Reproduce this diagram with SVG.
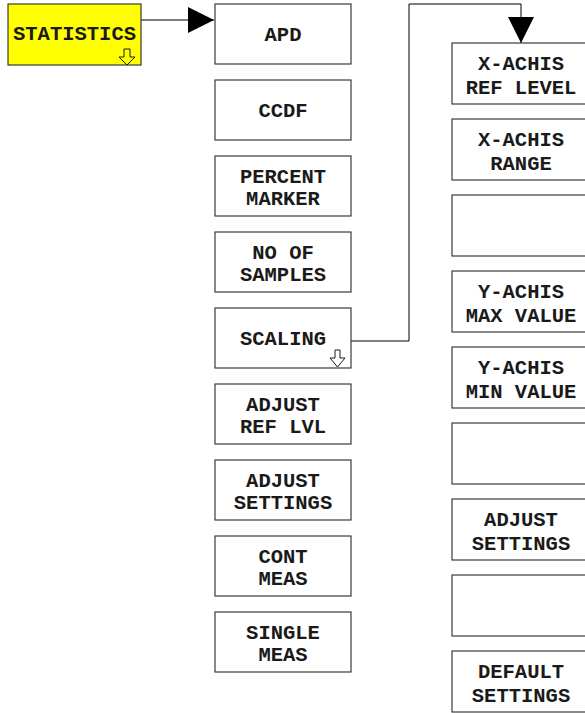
<svg xmlns="http://www.w3.org/2000/svg" width="585" height="713" viewBox="0 0 585 713">
<style>
.box{fill:#fff;stroke:#3a3a3a;stroke-width:1.2}
.hl{fill:#ffff00;stroke:#3a3a3a;stroke-width:1.2}
.t{font-family:"Liberation Mono","Courier New",monospace;font-weight:bold;font-size:20.5px;fill:#1a1a1a;text-anchor:middle}
.ic{fill:#fff;stroke:#1a1a1a;stroke-width:1}
.hl-ic{fill:#ffff00;stroke:#1a1a1a;stroke-width:1}
.con{fill:none;stroke:#000;stroke-width:1}
</style>
<defs>
<marker id="ah" markerUnits="userSpaceOnUse" markerWidth="27" markerHeight="27" refX="26" refY="13" orient="auto" viewBox="0 0 27 27">
<path d="M0,0 L26,13 L0,26 z" fill="#000"/>
</marker>
</defs>
<g id="connectors">
<path class="con" d="M141,20 H214" marker-end="url(#ah)"/>
<path class="con" d="M351,341 H409 V4 H521 V43" marker-end="url(#ah)"/>
</g>
<g id="statistics">
<rect class="hl" x="8" y="4" width="133" height="61"/>
<text class="t" x="74.5" y="40">STATISTICS</text>
<polygon class="hl-ic" points="124,49 130,49 130,57 135,57 127,65 119,57 124,57"/>
</g>
<g id="apd"><rect class="box" x="215" y="4" width="136" height="60"/><text class="t" x="283" y="41">APD</text></g>
<g id="ccdf"><rect class="box" x="215" y="80" width="136" height="60"/><text class="t" x="283" y="117">CCDF</text></g>
<g id="percent-marker"><rect class="box" x="215" y="156" width="136" height="60"/><text class="t" x="283" y="183">PERCENT</text><text class="t" x="283" y="204.5">MARKER</text></g>
<g id="no-of-samples"><rect class="box" x="215" y="232" width="136" height="60"/><text class="t" x="283" y="259">NO OF</text><text class="t" x="283" y="280.5">SAMPLES</text></g>
<g id="scaling"><rect class="box" x="215" y="308" width="136" height="60"/><text class="t" x="283" y="345">SCALING</text>
<polygon class="ic" points="335,350 340,350 340,358 345,358 337.5,367 330,358 335,358"/></g>
<g id="adjust-ref-lvl"><rect class="box" x="215" y="384" width="136" height="60"/><text class="t" x="283" y="411">ADJUST</text><text class="t" x="283" y="432.5">REF LVL</text></g>
<g id="adjust-settings-1"><rect class="box" x="215" y="460" width="136" height="60"/><text class="t" x="283" y="487">ADJUST</text><text class="t" x="283" y="508.5">SETTINGS</text></g>
<g id="cont-meas"><rect class="box" x="215" y="536" width="136" height="60"/><text class="t" x="283" y="563">CONT</text><text class="t" x="283" y="584.5">MEAS</text></g>
<g id="single-meas"><rect class="box" x="215" y="612" width="136" height="60"/><text class="t" x="283" y="639">SINGLE</text><text class="t" x="283" y="660.5">MEAS</text></g>
<g id="x-achis-ref-level"><rect class="box" x="452" y="43" width="138" height="61"/><text class="t" x="521" y="69.5">X-ACHIS</text><text class="t" x="521" y="94">REF LEVEL</text></g>
<g id="x-achis-range"><rect class="box" x="452" y="119" width="138" height="61"/><text class="t" x="521" y="145.5">X-ACHIS</text><text class="t" x="521" y="170">RANGE</text></g>
<g id="empty-1"><rect class="box" x="452" y="195" width="138" height="61"/></g>
<g id="y-achis-max-value"><rect class="box" x="452" y="271" width="138" height="61"/><text class="t" x="521" y="297.5">Y-ACHIS</text><text class="t" x="521" y="322">MAX VALUE</text></g>
<g id="y-achis-min-value"><rect class="box" x="452" y="347" width="138" height="61"/><text class="t" x="521" y="373.5">Y-ACHIS</text><text class="t" x="521" y="398">MIN VALUE</text></g>
<g id="empty-2"><rect class="box" x="452" y="423" width="138" height="61"/></g>
<g id="adjust-settings-2"><rect class="box" x="452" y="499" width="138" height="61"/><text class="t" x="521" y="525.5">ADJUST</text><text class="t" x="521" y="550">SETTINGS</text></g>
<g id="empty-3"><rect class="box" x="452" y="575" width="138" height="61"/></g>
<g id="default-settings"><rect class="box" x="452" y="651" width="138" height="61"/><text class="t" x="521" y="677.5">DEFAULT</text><text class="t" x="521" y="702">SETTINGS</text></g>
</svg>
